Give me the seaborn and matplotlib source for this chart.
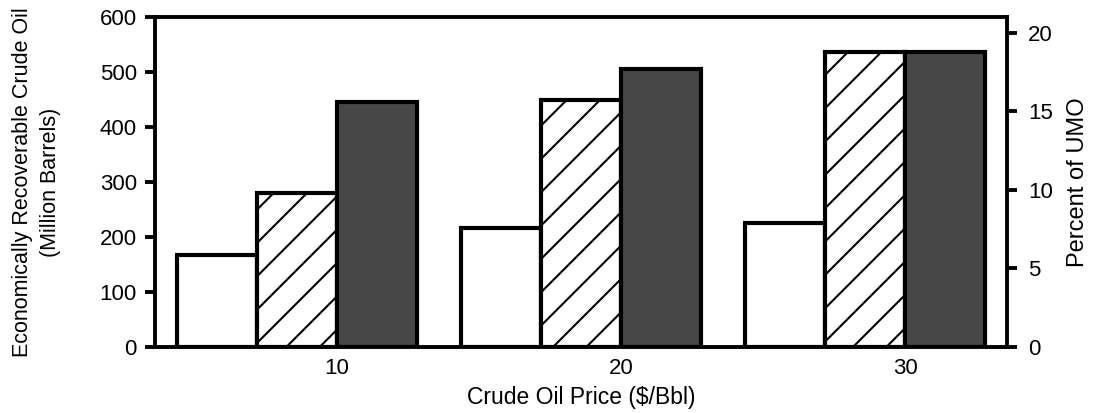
import pandas as pd
import seaborn as sns
import matplotlib.pyplot as plt

# values
prices = ["10", "20", "30"]
series = ["A", "B", "C"]
vals_a = [167, 216, 225]   # open bars
vals_b = [280, 449, 536]   # hatched bars
vals_c = [445, 505, 536]   # dark dotted bars

df = pd.DataFrame({
    "price": prices * 3,
    "series": [s for s in series for _ in prices],
    "value": vals_a + vals_b + vals_c,
})

sns.set_style("white")
plt.rcParams["font.family"] = ["Liberation Sans", "DejaVu Sans"]
plt.rcParams["hatch.linewidth"] = 1.5
plt.rcParams["text.color"] = "black"
plt.rcParams["axes.labelcolor"] = "black"
plt.rcParams["xtick.color"] = "black"
plt.rcParams["ytick.color"] = "black"

fig = plt.figure(figsize=(10.94, 4.13), dpi=100)
ax = fig.add_axes([0.1417, 0.1598, 0.7788, 0.7990])

group_w = 0.845
sns.barplot(data=df, x="price", y="value", hue="series",
            palette=["white", "white", "#474747"], saturation=1,
            width=group_w, edgecolor="black", linewidth=3,
            legend=False, ax=ax)

for p in ax.containers[1]:
    p.set_hatch("/")

ax.set_xlim(-0.5, 2.5)
ax.set_ylim(0, 600)
ax.set_yticks(range(0, 700, 100))
bar_w = group_w / 3
ax.set_xticks([i + bar_w / 2 for i in range(len(prices))])
ax.set_xticklabels(prices)

for s in ax.spines.values():
    s.set_visible(True)
    s.set_color("black")
    s.set_linewidth(2.8)

ax.tick_params(axis="y", direction="out", length=7, width=2.8, pad=6,
               labelsize=16, left=True)
ax.tick_params(axis="x", length=0, pad=8, labelsize=16)
ax.set_xlabel("Crude Oil Price ($/Bbl)", fontsize=16.5, labelpad=5)
ax.set_ylabel("Economically Recoverable Crude Oil\n(Million Barrels)",
              fontsize=15.5, labelpad=28, linespacing=1.45)

ax2 = ax.twinx()
ax2.set_ylim(0, 21)
ax2.set_yticks([0, 5, 10, 15, 20])
ax2.tick_params(axis="y", direction="out", length=7, width=2.8, pad=8,
                labelsize=16, right=True)
for s in ax2.spines.values():
    s.set_visible(False)
ax2.set_ylabel("Percent of UMO", fontsize=17, labelpad=10)

fig.savefig("out.png", dpi=100)
